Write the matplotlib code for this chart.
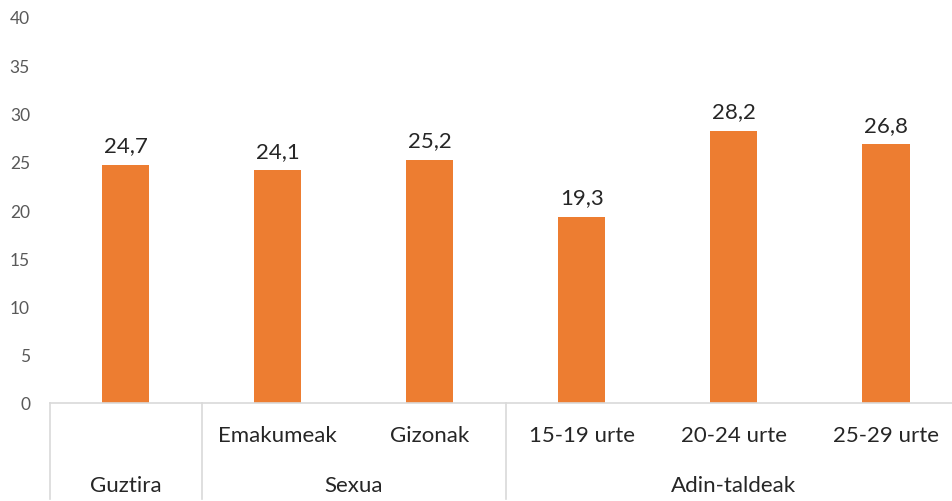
import matplotlib
matplotlib.use("Agg")
import matplotlib.pyplot as plt
from matplotlib.lines import Line2D

plt.rcParams['font.family'] = ['Lato', 'DejaVu Sans']

categories = ["", "Emakumeak", "Gizonak", "15-19 urte", "20-24 urte", "25-29 urte"]
values = [24.7, 24.1, 25.2, 19.3, 28.2, 26.8]
value_labels = ["24,7", "24,1", "25,2", "19,3", "28,2", "26,8"]
groups = ["Guztira", "Sexua", "Adin-taldeak"]
group_spans = [(0, 0), (1, 2), (3, 5)]
yticks = [0, 5, 10, 15, 20, 25, 30, 35, 40]

W, H = 952, 502
fig = plt.figure(figsize=(W / 100, H / 100), dpi=100)
left_px, right_px, top_px, bottom_px = 49.5, 962, 18, 404
ax = fig.add_axes([left_px / W, (H - bottom_px) / H, (right_px - left_px) / W, (bottom_px - top_px) / H])

x = list(range(len(values)))
bars = ax.bar(x, values, width=0.31, color="#ED7D31", zorder=2)
for xi, v, lab in zip(x, values, value_labels):
    ax.annotate(lab, (xi, v), xytext=(0, 7), textcoords="offset points",
                ha="center", va="bottom", fontsize=16, color="#262626")

ax.set_xlim(-0.5, len(values) - 0.5)
ax.set_ylim(0, 40)
ax.set_yticks(yticks)
ax.set_yticklabels([str(t) for t in yticks], fontsize=12.5, color="#595959")
ax.tick_params(axis="y", length=0, pad=14)
ax.set_xticks([])
for s in ["top", "right", "left"]:
    ax.spines[s].set_visible(False)
ax.spines["bottom"].set_color("#D9D9D9")
ax.spines["bottom"].set_linewidth(1.2)

axh = bottom_px - top_px
row1 = -32 / axh
row2 = -82 / axh
sep_bottom = -96 / axh
tr = ax.get_xaxis_transform()
for xi, c in zip(x, categories):
    if c:
        ax.text(xi, row1, c, transform=tr, ha="center", va="center", fontsize=16, color="#262626")
for g, (a, b) in zip(groups, group_spans):
    ax.text((a + b) / 2, row2, g, transform=tr, ha="center", va="center", fontsize=16, color="#262626")
seps = [-0.5] + [b + 0.5 for (a, b) in group_spans]
for s in seps:
    ax.add_line(Line2D([s, s], [0, sep_bottom], transform=tr, color="#D9D9D9", lw=1.2, clip_on=False))

fig.savefig("out.png", dpi=100)
